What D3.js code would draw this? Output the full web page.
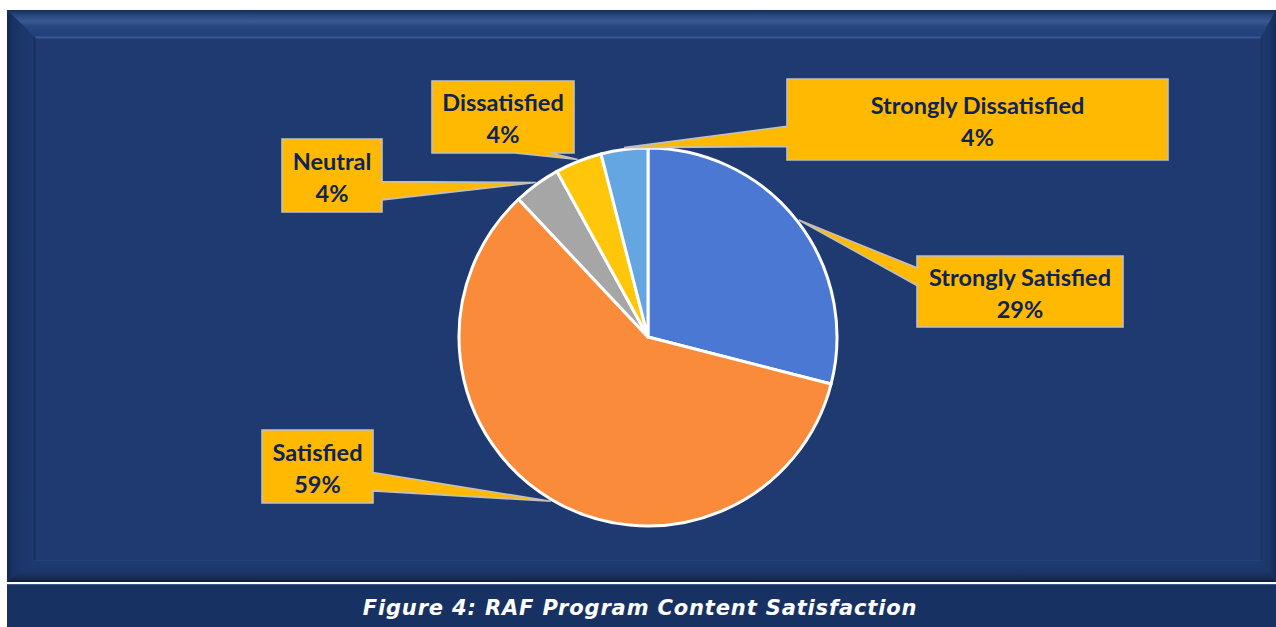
<!DOCTYPE html>
<html>
<head>
<meta charset="utf-8">
<script src="https://cdn.jsdelivr.net/npm/d3@7"></script>
<style>
  html, body { margin: 0; padding: 0; background: #ffffff; }
  svg { display: block; }
</style>
</head>
<body>
<svg id="chart" width="1276" height="627"></svg>
<script>
// ---------------- data ----------------
const categories = ["Strongly Satisfied", "Satisfied", "Neutral", "Dissatisfied", "Strongly Dissatisfied"];
const values = [29, 59, 4, 4, 4];
const percentLabels = ["29%", "59%", "4%", "4%", "4%"];
const captionText = "Figure 4: RAF Program Content Satisfaction";

// ---------------- styles / layout ----------------
const sliceColors = ["#4a78d2", "#fa8b3a", "#a6a6a6", "#ffc60a", "#64a6e2"];
const labelBoxes = [
  { x: 917, y: 256, w: 206, h: 71 },
  { x: 262, y: 430, w: 111, h: 73 },
  { x: 282, y: 139, w: 100, h: 73 },
  { x: 432, y: 81,  w: 142, h: 72 },
  { x: 787, y: 79,  w: 381, h: 81 }
];
const W = 1276, H = 627;
const cx = 648, cy = 337, R = 189;

const svg = d3.select("#chart");
const defs = svg.append("defs");

function linGrad(id, x1, y1, x2, y2, stops) {
  const g = defs.append("linearGradient").attr("id", id)
    .attr("x1", x1).attr("y1", y1).attr("x2", x2).attr("y2", y2);
  stops.forEach(s => g.append("stop").attr("offset", s[0]).attr("stop-color", s[1]));
}
linGrad("gTop", 0, 0, 0, 1, [[0, "#152c58"], [0.18, "#26457f"], [0.42, "#395893"], [0.62, "#27467f"], [1, "#21407a"]]);
linGrad("gLeft", 0, 0, 1, 0, [[0, "#132852"], [0.25, "#1a3466"], [1, "#1e3a71"]]);
linGrad("gRight", 0, 0, 1, 0, [[0, "#1e3a71"], [0.6, "#1b3568"], [1, "#152b57"]]);
linGrad("gBottom", 0, 0, 0, 1, [[0, "#1e3a71"], [0.55, "#1c366a"], [0.85, "#16294f"], [1, "#0f1d3a"]]);

// outer panel with bevel
const o = { l: 7, t: 10, r: 1276, b: 582 };
const i = { l: 35, t: 37, r: 1261, b: 560 };
svg.append("rect").attr("x", o.l).attr("y", o.t).attr("width", o.r - o.l).attr("height", o.b - o.t).attr("fill", "#1f3a70");
const poly = pts => pts.map(p => p.join(",")).join(" ");
svg.append("polygon").attr("points", poly([[o.l, o.t], [o.r, o.t], [i.r, i.t], [i.l, i.t]])).attr("fill", "url(#gTop)");
svg.append("polygon").attr("points", poly([[o.l, o.t], [i.l, i.t], [i.l, i.b], [o.l, o.b]])).attr("fill", "url(#gLeft)");
svg.append("polygon").attr("points", poly([[o.r, o.t], [o.r, o.b], [i.r, i.b], [i.r, i.t]])).attr("fill", "url(#gRight)");
svg.append("polygon").attr("points", poly([[o.l, o.b], [i.l, i.b], [i.r, i.b], [o.r, o.b]])).attr("fill", "url(#gBottom)");
// inner face
svg.append("rect").attr("x", i.l).attr("y", i.t).attr("width", i.r - i.l).attr("height", i.b - i.t).attr("fill", "#1f3a70");
svg.append("line").attr("x1", i.l).attr("y1", i.t + 0.5).attr("x2", i.r).attr("y2", i.t + 0.5).attr("stroke", "#3a5892").attr("stroke-width", 2);
svg.append("line").attr("x1", i.l - 0.5).attr("y1", i.t).attr("x2", i.l - 0.5).attr("y2", i.b).attr("stroke", "#192f5c").attr("stroke-width", 2);
svg.append("line").attr("x1", i.r + 0.5).attr("y1", i.t).attr("x2", i.r + 0.5).attr("y2", i.b).attr("stroke", "#1a3262").attr("stroke-width", 2);
svg.append("line").attr("x1", i.l).attr("y1", i.b + 0.5).attr("x2", i.r).attr("y2", i.b + 0.5).attr("stroke", "#243f76").attr("stroke-width", 1);

// caption band
svg.append("rect").attr("x", 7).attr("y", 584).attr("width", W - 7).attr("height", H - 584).attr("fill", "#173262");
svg.append("line").attr("x1", 7).attr("y1", 584.5).attr("x2", W).attr("y2", 584.5).attr("stroke", "#3f5783").attr("stroke-width", 1);
svg.append("text").attr("x", 640).attr("y", 615)
  .attr("text-anchor", "middle")
  .attr("font-family", "'DejaVu Sans', 'Open Sans', sans-serif")
  .attr("font-weight", 700).attr("font-style", "italic")
  .attr("font-size", 21).attr("letter-spacing", 0.85).attr("fill", "#ffffff")
  .text(captionText);

// ---------------- pie ----------------
const data = categories.map((c, k) => ({ cat: c, value: values[k], label: percentLabels[k], color: sliceColors[k], box: labelBoxes[k] }));
const pie = d3.pie().value(d => d.value).sort(null).startAngle(0).endAngle(2 * Math.PI);
const arcs = pie(data);
const arc = d3.arc().innerRadius(0).outerRadius(R);

const g = svg.append("g").attr("transform", `translate(${cx},${cy})`);
g.selectAll("path.slice").data(arcs).join("path")
  .attr("class", "slice")
  .attr("d", arc)
  .attr("fill", d => d.data.color)
  .attr("stroke", "#ffffff")
  .attr("stroke-width", 3)
  .attr("stroke-linejoin", "round");

// ---------------- callouts ----------------
function calloutPath(b, tx, ty) {
  const l = b.x, t = b.y, r = b.x + b.w, bt = b.y + b.h;
  const hc = l + b.w / 2, vc = t + b.h / 2;
  const dx = tx - hc, dy = ty - vc;
  const dz = Math.abs(dy) - Math.abs(dx * b.h / b.w);
  const x1 = l + b.w * (dx > 0 ? 7 : 2) / 12, x2 = l + b.w * (dx > 0 ? 10 : 5) / 12;
  const y1 = t + b.h * (dy > 0 ? 7 : 2) / 12, y2 = t + b.h * (dy > 0 ? 10 : 5) / 12;
  const p = d3.path();
  p.moveTo(l, t);
  if (dz > 0 && dy < 0) { p.lineTo(x1, t); p.lineTo(tx, ty); p.lineTo(x2, t); }
  p.lineTo(r, t);
  if (dz <= 0 && dx > 0) { p.lineTo(r, y1); p.lineTo(tx, ty); p.lineTo(r, y2); }
  p.lineTo(r, bt);
  if (dz > 0 && dy > 0) { p.lineTo(x2, bt); p.lineTo(tx, ty); p.lineTo(x1, bt); }
  p.lineTo(l, bt);
  if (dz <= 0 && dx < 0) { p.lineTo(l, y2); p.lineTo(tx, ty); p.lineTo(l, y1); }
  p.closePath();
  return p.toString();
}

const callouts = svg.append("g");
arcs.forEach(a => {
  const ang = (a.startAngle + a.endAngle) / 2;
  const tx = cx + R * 1.01 * Math.sin(ang);
  const ty = cy - R * 1.01 * Math.cos(ang);
  const b = a.data.box;
  callouts.append("path")
    .attr("d", calloutPath(b, tx, ty))
    .attr("fill", "#ffb901")
    .attr("stroke", "#c0c0c0")
    .attr("stroke-width", 1.6)
    .attr("stroke-linejoin", "miter");
  const mx = b.x + b.w / 2, my = b.y + b.h / 2;
  const t = callouts.append("text")
    .attr("text-anchor", "middle")
    .attr("font-family", "Lato, 'Liberation Sans', sans-serif")
    .attr("font-weight", 700)
    .attr("font-size", 23.5)
    .attr("fill", "#0f2456");
  t.append("tspan").attr("x", mx).attr("y", my - 16 + 10).text(a.data.cat);
  t.append("tspan").attr("x", mx).attr("y", my + 16 + 10).text(a.data.label);
});
</script>
</body>
</html>
